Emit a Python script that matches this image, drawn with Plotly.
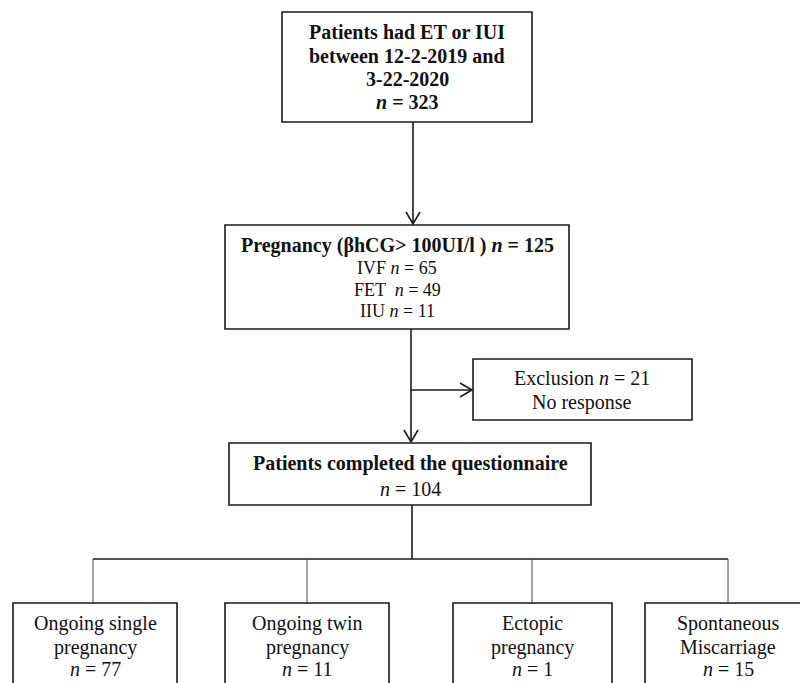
import plotly.graph_objects as go

# ---- data (flowchart counts & labels) ----
n_total = 323
n_pregnant = 125
method_names = ["IVF", "FET ", "IIU"]
method_counts = [65, 49, 11]
n_excluded = 21
n_completed = 104
outcome_names = [["Ongoing single", "pregnancy"], ["Ongoing twin", "pregnancy"],
                 ["Ectopic", "pregnancy"], ["Spontaneous", "Miscarriage"]]
outcome_counts = [77, 11, 1, 15]

W, H = 800, 683
FONT = "Liberation Serif, Times New Roman, serif"
INK = "#1a1a1a"

fig = go.Figure()
shapes = []
annots = []


def box(x0, y0, x1, y1, w=1.6):
    shapes.append(dict(type="rect", xref="x", yref="y", x0=x0, y0=y0, x1=x1, y1=y1,
                       line=dict(color=INK, width=w), fillcolor="rgba(0,0,0,0)"))


def line(x0, y0, x1, y1, w=1.6, color=INK):
    shapes.append(dict(type="line", xref="x", yref="y", x0=x0, y0=y0, x1=x1, y1=y1,
                       line=dict(color=color, width=w)))


def head(tx, ty, d):
    # open V arrow head; d = 'down' or 'right'
    if d == "down":
        p = f"M {tx-7},{ty-12} L {tx},{ty} L {tx+7},{ty-12}"
    else:
        p = f"M {tx-12},{ty-7} L {tx},{ty} L {tx-12},{ty+7}"
    shapes.append(dict(type="path", xref="x", yref="y", path=p,
                       line=dict(color=INK, width=1.6)))


def text(x, y, s, size=20):
    annots.append(dict(x=x, y=y, xref="x", yref="y", text=s, showarrow=False,
                       xanchor="center", yanchor="middle",
                       font=dict(family=FONT, size=size, color="#111")))


# top box
box(282, 12, 532, 122)
for yy, s in zip([32, 56, 79, 102],
                 ["<b>Patients had ET or IUI</b>", "<b>between 12-2-2019 and</b>",
                  "<b>3-22-2020</b>", f"<b><i>n</i> = {n_total}</b>"]):
    text(407, yy, s)

line(413, 122, 413, 224)
head(413, 224, "down")

# pregnancy box
box(225, 225, 569, 329)
text(397, 245, f"<b>Pregnancy (βhCG> 100UI/l ) <i>n</i> = {n_pregnant}</b>")
for yy, nm, c in zip([268, 290, 311], method_names, method_counts):
    text(397, yy, f"{nm} <i>n</i> = {c}", size=18)

line(411, 329, 411, 442)
head(411, 442, "down")
line(411, 390, 471, 390)
head(472, 390, "right")

# exclusion box
box(473, 359, 692, 420)
text(582, 378, f"Exclusion <i>n</i> = {n_excluded}")
text(582, 402, "No response")

# completed box
box(229, 443, 591, 505)
text(410, 463, "<b>Patients completed the questionnaire</b>")
text(410, 489, f"<i>n</i> = {n_completed}")

# branches
centers = [93, 307, 532, 728]
box_x = [(13, 177), (225, 389), (453, 612), (645, 830)]
line(412, 505, 412, 559, w=1.6)
line(centers[0], 559, centers[-1], 559, w=1.6)
for cx, (bx0, bx1), nm, c in zip(centers, box_x, outcome_names, outcome_counts):
    line(cx, 559, cx, 603, w=1.0, color="#444")
    box(bx0, 603, bx1, 720)
    tx = cx if bx1 > W else (bx0 + bx1) / 2
    text(tx, 623, nm[0])
    text(tx, 647, nm[1])
    text(tx, 669, f"<i>n</i> = {c}")

fig.update_layout(
    width=W, height=H, margin=dict(l=0, r=0, t=0, b=0),
    paper_bgcolor="white", plot_bgcolor="white",
    xaxis=dict(range=[0, W], visible=False, fixedrange=True),
    yaxis=dict(range=[H, 0], visible=False, fixedrange=True),
    shapes=shapes, annotations=annots, showlegend=False,
)
fig.write_html("out.html", config={"displayModeBar": False},
               post_script="document.body.style.margin='0';document.body.style.overflow='hidden';")
